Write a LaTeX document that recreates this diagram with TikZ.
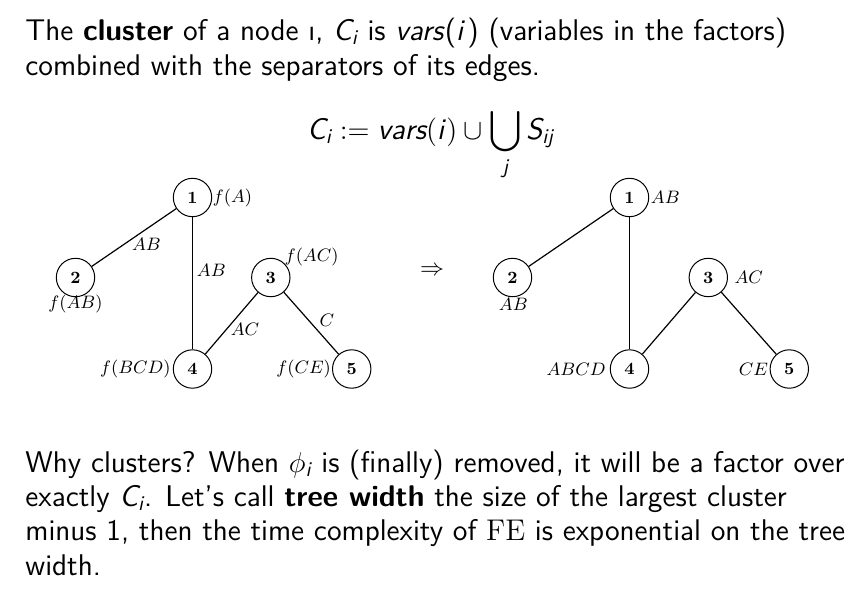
\documentclass[tikz,border=0pt]{standalone}
\usepackage{amsmath}
\usepackage{fontspec}
\DeclareMathAlphabet{\mathsfit}{TU}{lmss}{m}{it}
\tikzset{
  txt/.style={anchor=base west, inner sep=0pt, font=\sffamily\fontsize{14.95}{17}\selectfont},
  tnode/.style={circle, draw, line width=0.5pt, minimum size=19.2pt, inner sep=0pt, font=\rmfamily\bfseries\fontsize{8.6}{10}\selectfont},
  lab/.style={inner sep=0pt, font=\fontsize{8.6}{10}\selectfont},
  edge/.style={line width=0.6pt}
}
\newcommand{\sv}[1]{\textit{#1}}
\begin{document}
\begin{tikzpicture}[x=0.5pt,y=-0.5pt]
\path[use as bounding box] (0,0) rectangle (851,589);
% top text
\node[txt] (t1) at (25,40) {The \textbf{cluster} of a node ı, $\mathsfit{C}_{\mathsfit{i}}$ is \sv{vars}(\sv{i}\kern1.2pt) (variables in the factors)};
\node[txt] (t2) at (25,75) {combined with the separators of its edges.};
% formula
\node[anchor=base, inner sep=0pt, font=\sffamily\fontsize{14.95}{17}\selectfont] (eq) at (430.5,139)
  {$\displaystyle \mathsfit{C}_{\mathsfit{i}} \mathrel{\mathsf{:=}} \mathsfit{vars}\mathsf{(}\mathsfit{i}\kern1.2pt\mathsf{)} \cup \bigcup_{\mathsfit{j}} \mathsfit{S}_{\mathsfit{ij}}$};
% tree 1
\node[tnode] (a1) at (192.5,197.5) {1};
\node[tnode] (a2) at (75.5,277.5) {2};
\node[tnode] (a3) at (270.8,277.5) {3};
\node[tnode] (a4) at (192.5,369) {4};
\node[tnode] (a5) at (351.7,369) {5};
\draw[edge] (a1) -- (a2);
\draw[edge] (a1) -- (a4);
\draw[edge] (a3) -- (a4);
\draw[edge] (a3) -- (a5);
\node[lab, anchor=west] (fa1) at (212.5,197.5) {$f(A)$};
\node[lab] (fa2) at (75.5,304) {$f(AB)$};
\node[lab] (fa3) at (311.7,257) {$f(AC)$};
\node[lab, anchor=east] (fa4) at (171,369) {$f(BCD)$};
\node[lab] (fa5) at (303.7,369) {$f(CE)$};
\node[lab] (e12) at (146.5,244.5) {$AB$};
\node[lab] (e14) at (211.3,270.8) {$AB$};
\node[lab] (e34) at (245,329) {$AC$};
\node[lab] (e35) at (326.8,320.8) {$C$};
% arrow
\node[inner sep=0pt, font=\fontsize{12}{14}\selectfont] (arr) at (432,271) {$\Rightarrow$};
% tree 2
\node[tnode] (b1) at (629.5,197.5) {1};
\node[tnode] (b2) at (512.5,277.5) {2};
\node[tnode] (b3) at (708.3,277.5) {3};
\node[tnode] (b4) at (629.5,369) {4};
\node[tnode] (b5) at (789.3,369) {5};
\draw[edge] (b1) -- (b2);
\draw[edge] (b1) -- (b4);
\draw[edge] (b3) -- (b4);
\draw[edge] (b3) -- (b5);
\node[lab, anchor=west] (cb1) at (650.5,197.5) {$AB$};
\node[lab] (cb2) at (513.3,304) {$AB$};
\node[lab] (cb3) at (748.8,277.5) {$AC$};
\node[lab, anchor=east] (cb4) at (606,369) {$ABCD$};
\node[lab, anchor=east] (cb5) at (768.5,369) {$CE$};
% bottom text
\node[txt] (b1t) at (25,472) {Why clusters? When $\phi_{\mathsfit{i}}$ is (finally) removed, it will be a factor over};
\node[txt] (b2t) at (25,506) {exactly $\mathsfit{C}_{\mathsfit{i}}$. Let’s call \textbf{tree width} the size of the largest cluster};
\node[txt] (b3t) at (25,540) {minus 1, then the time complexity of $\mathrm{FE}$ is exponential on the tree};
\node[txt] (b4t) at (25,575) {width.};
\end{tikzpicture}
\end{document}
